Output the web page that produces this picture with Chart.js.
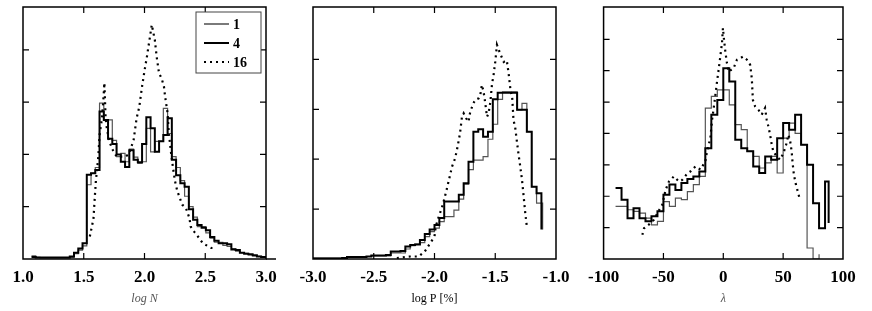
<!DOCTYPE html>
<html>
<head>
<meta charset="utf-8">
<script src="https://cdn.jsdelivr.net/npm/chart.js@4.4.0/dist/chart.umd.min.js"></script>
<style>
  html, body { margin: 0; padding: 0; background: #fff; }
  #wrap { position: relative; width: 872px; height: 311px; }
  canvas { position: absolute; top: 0; }
</style>
</head>
<body>
<div id="wrap">
  <canvas id="c1" width="290" height="311" style="left:0px"></canvas>
  <canvas id="c2" width="290" height="311" style="left:290px"></canvas>
  <canvas id="c3" width="292" height="311" style="left:580px"></canvas>
</div>
<script>
// ---- panel 1: log N histogram (bins start 1.07, width 0.035) ----
const p1Start = 1.07, p1Width = 0.035, p1End = 2.995;
const p1One = [0.06, 0.03, 0.02, 0.02, 0.02, 0.02, 0.02, 0.02, 0.02, 0.03,
  0.1, 0.17, 0.25, 1.42, 1.64, 1.75, 2.98, 2.66, 2.66, 2.27,
  1.96, 2.02, 1.86, 2.1, 1.95, 1.83, 1.86, 2.5, 2.05, 2.25,
  2.25, 2.88, 2.4, 1.96, 1.75, 1.5, 1.2, 1.0, 0.8, 0.62,
  0.62, 0.5, 0.4, 0.32, 0.32, 0.26, 0.24, 0.2, 0.15, 0.12,
  0.11, 0.08, 0.06, 0.05, 0.03];
const p1Four = [0.04, 0.03, 0.03, 0.03, 0.03, 0.03, 0.03, 0.03, 0.03, 0.05,
  0.12, 0.2, 0.3, 1.61, 1.64, 1.7, 2.82, 2.66, 2.3, 2.2,
  2.0, 1.86, 1.76, 2.08, 1.9, 1.85, 2.2, 2.71, 2.5, 2.05,
  2.25, 2.37, 2.69, 1.9, 1.6, 1.45, 1.38, 0.95, 0.75, 0.65,
  0.6, 0.55, 0.42, 0.35, 0.3, 0.3, 0.28, 0.18, 0.17, 0.12,
  0.1, 0.09, 0.07, 0.05, 0.04];
const p1DotX = [1.55, 1.58, 1.59, 1.60, 1.62, 1.63, 1.65, 1.66, 1.67, 1.68, 1.69, 1.71, 1.74, 1.77, 1.80, 1.84,
  1.87, 1.91, 1.935, 1.957, 1.98, 2.0, 2.02, 2.045, 2.06, 2.085, 2.10, 2.12, 2.14, 2.16, 2.17, 2.19,
  2.20, 2.22, 2.235, 2.25, 2.27, 2.29, 2.31, 2.34, 2.37, 2.38, 2.41, 2.44, 2.48, 2.52, 2.55, 2.57];
const p1DotY = [0.43, 0.77, 1.15, 1.5, 1.96, 2.37, 2.69, 3.0, 3.37, 2.69, 2.5, 2.25, 2.08, 1.96, 1.96, 1.96,
  2.0, 2.27, 2.69, 2.91, 3.3, 3.6, 3.87, 4.25, 4.48, 4.19, 3.87, 3.55, 3.46, 3.3, 3.1, 2.79,
  2.41, 2.0, 1.74, 1.5, 1.3, 1.17, 1.04, 0.98, 0.78, 0.62, 0.52, 0.43, 0.3, 0.25, 0.21, 0.21];

// ---- panel 2: log P histogram (bins start -3.0, width 0.04) ----
const p2Start = -3.0, p2Width = 0.04, p2End = -1.12;
const p2One = [0.02, 0.02, 0.02, 0.02, 0.02, 0.02, 0.02, 0.05, 0.05, 0.05,
  0.05, 0.05, 0.06, 0.06, 0.06, 0.06, 0.12, 0.12, 0.12, 0.2,
  0.27, 0.3, 0.33, 0.45, 0.55, 0.62, 0.75, 0.85, 0.85, 0.98,
  1.2, 1.5, 1.79, 1.98, 1.98, 2.05, 2.4, 2.7, 3.2, 3.35,
  3.35, 3.35, 2.99, 3.12, 2.55, 1.45, 1.12];
const p2Four = [0.01, 0.01, 0.01, 0.01, 0.01, 0.01, 0.02, 0.04, 0.04, 0.04,
  0.04, 0.05, 0.07, 0.07, 0.07, 0.08, 0.15, 0.15, 0.16, 0.25,
  0.28, 0.29, 0.38, 0.5, 0.59, 0.68, 0.82, 1.15, 1.15, 1.15,
  1.29, 1.52, 1.95, 2.55, 2.6, 2.45, 2.55, 3.2, 3.33, 3.33,
  3.33, 3.33, 2.99, 2.99, 2.55, 1.45, 1.32];
const p2DotX = [-2.31, -2.2, -2.13, -2.08, -2.04, -2.0, -1.99, -1.965, -1.94, -1.925, -1.9, -1.875, -1.856,
  -1.83, -1.81, -1.79, -1.774, -1.76, -1.74, -1.72, -1.706, -1.68, -1.664, -1.637, -1.623, -1.61,
  -1.596, -1.582, -1.568, -1.555, -1.54, -1.527, -1.513, -1.5, -1.486, -1.46, -1.43, -1.405, -1.39,
  -1.375, -1.36, -1.35, -1.335, -1.32, -1.308, -1.294, -1.28, -1.266, -1.253, -1.24];
const p2DotY = [0.02, 0.05, 0.05, 0.15, 0.3, 0.45, 0.65, 0.85, 1.02, 1.15, 1.39, 1.65, 1.85,
  2.02, 2.25, 2.52, 2.85, 2.92, 2.82, 2.75, 2.95, 3.12, 3.19, 3.22, 3.29, 3.49,
  3.35, 3.12, 2.85, 2.92, 3.15, 3.5, 3.7, 3.95, 4.29, 4.12, 3.95, 3.98, 3.72,
  3.4, 3.22, 2.79, 2.62, 2.32, 2.09, 1.85, 1.59, 1.25, 0.92, 0.65];

// ---- panel 3: lambda histogram (bins start -90, width 5) ----
const p3Start = -90, p3Width = 5;
const p3One = [1.68, 1.68, 1.57, 1.52, 1.46, 1.3, 1.09, 1.2, 1.83, 1.68,
  1.94, 1.89, 2.15, 2.37, 2.63, 4.81, 5.18, 5.39, 5.39, 4.91,
  4.28, 4.12, 3.43, 3.27, 2.9, 3.06, 3.27, 2.74, 3.85, 4.33,
  4.0, 3.64, 0.35, 0, 0.15];
const p3Four = [2.26, 1.89, 1.3, 1.62, 1.3, 1.2, 1.36, 1.52, 2.05, 2.37,
  2.2, 2.42, 2.55, 2.63, 2.79, 3.53, 4.6, 5.07, 6.08, 5.66,
  3.8, 3.53, 3.43, 2.95, 2.74, 3.27, 3.16, 3.85, 4.33, 4.12,
  4.6, 3.64, 3.0, 1.78, 0.98, 2.47];
const p3DotX = [-67.6, -66.2, -62, -58, -55, -51, -48.2, -45.4, -41.3, -37.1, -34.3, -30.2, -27.4, -23.3,
  -19.1, -15, -13.6, -10.8, -9.4, -8, -6.6, -5.2, -3.9, -2.5, -1.1, -0.3, 0.3, 1.7, 3.05, 4.4,
  8.6, 11.4, 14.1, 16.4, 19.7, 22.4, 23.8, 24.3, 24.7, 26.6, 29.4, 32.1, 34.9, 36.3, 37.7, 39.1,
  40.5, 41.8, 44.6, 47.4, 50.2, 52.9, 54.3, 55.7, 57.1, 57.9, 59, 60.7, 62.6, 64];
const p3DotY = [0.77, 0.98, 1.1, 1.25, 1.46, 1.73, 2.2, 2.47, 2.63, 2.47, 2.52, 2.72, 2.79, 2.95,
  2.85, 3.11, 3.43, 3.85, 4.43, 4.81, 5.23, 5.66, 6.03, 6.45, 6.88, 7.36, 7.1, 6.61, 6.24, 5.97,
  6.08, 6.35, 6.4, 6.45, 6.35, 6.19, 5.76, 5.39, 5.07, 4.86, 4.75, 4.6, 4.81, 4.43, 4.22, 3.96,
  3.64, 3.43, 3.27, 3.16, 3.37, 3.69, 3.96, 3.8, 3.43, 3.06, 2.68, 2.37, 2.1, 1.89];

const seriesNames = ['1', '4', '16'];

function stepPoints(start, width, values, endX, endY) {
  const pts = values.map((v, i) => ({ x: start + i * width, y: v }));
  pts.push({ x: endX, y: endY });
  return pts;
}
function linePoints(xs, ys) {
  return xs.map((x, i) => ({ x: x, y: ys[i] }));
}

const serif = "'Liberation Serif', 'DejaVu Serif', serif";

// frame with inward ticks on all four sides, plus the optional boxed legend
const frameTicks = {
  id: 'frameTicks',
  afterDraw(chart, args, opts) {
    const { ctx, chartArea: a, scales } = chart;
    const L = 6;
    ctx.save();
    ctx.strokeStyle = '#000';
    ctx.lineWidth = 1.2;
    ctx.beginPath();
    scales.x.ticks.forEach(t => {
      const px = scales.x.getPixelForValue(t.value);
      if (px <= a.left + 3 || px >= a.right - 3) return;
      ctx.moveTo(px, a.bottom); ctx.lineTo(px, a.bottom - L);
      ctx.moveTo(px, a.top); ctx.lineTo(px, a.top + L);
    });
    scales.y.ticks.forEach(t => {
      const py = scales.y.getPixelForValue(t.value);
      if (py <= a.top + 4 || py >= a.bottom - 3) return;
      ctx.moveTo(a.left, py); ctx.lineTo(a.left + L, py);
      ctx.moveTo(a.right, py); ctx.lineTo(a.right - L, py);
    });
    ctx.stroke();
    ctx.lineWidth = 1.5;
    ctx.strokeRect(a.left, a.top, a.right - a.left, a.bottom - a.top);
    if (opts.extendBase) {
      ctx.beginPath();
      ctx.moveTo(a.right, a.bottom); ctx.lineTo(a.right + opts.extendBase, a.bottom);
      ctx.stroke();
    }
    if (opts.legend) {
      const w = 65, h = 61;
      const x0 = a.right - 5 - w, y0 = a.top + 5;
      ctx.fillStyle = '#fff';
      ctx.fillRect(x0, y0, w, h);
      ctx.strokeStyle = '#444';
      ctx.lineWidth = 1;
      ctx.strokeRect(x0, y0, w, h);
      ctx.font = "bold 14px " + serif;
      ctx.textBaseline = 'middle';
      ctx.textAlign = 'left';
      chart.data.datasets.forEach((ds, i) => {
        const ly = y0 + 12 + i * 19;
        ctx.beginPath();
        ctx.strokeStyle = i === 0 ? '#222' : ds.borderColor;
        ctx.lineWidth = ds.borderWidth;
        ctx.setLineDash(ds.borderDash || []);
        ctx.moveTo(x0 + 8, ly); ctx.lineTo(x0 + 33, ly);
        ctx.stroke();
        ctx.setLineDash([]);
        ctx.fillStyle = '#000';
        ctx.fillText(ds.label, x0 + 37, ly + 1);
      });
    }
    ctx.restore();
  }
};

function makePanel(id, cfg) {
  new Chart(document.getElementById(id), {
    type: 'line',
    data: {
      datasets: [
        { label: seriesNames[0], data: cfg.one, borderColor: '#555', borderWidth: 1.2,
          stepped: true, pointRadius: 0, order: 3 },
        { label: seriesNames[1], data: cfg.four, borderColor: '#000', borderWidth: 2,
          stepped: true, pointRadius: 0, order: 2 },
        { label: seriesNames[2], data: cfg.dots, borderColor: '#000', borderWidth: 2.2,
          borderDash: [2, 4], pointRadius: 0, tension: 0, order: 1 }
      ]
    },
    options: {
      responsive: false,
      animation: false,
      layout: { padding: { left: cfg.padL, right: cfg.padR, top: 7, bottom: 0 } },
      plugins: {
        legend: { display: false },
        tooltip: { enabled: false },
        frameTicks: { legend: cfg.legend, extendBase: cfg.extendBase }
      },
      scales: {
        x: {
          type: 'linear', min: cfg.xMin, max: cfg.xMax,
          grid: { display: false, drawTicks: false },
          border: { display: false },
          ticks: {
            stepSize: cfg.xStep, autoSkip: false, maxRotation: 0, padding: 8,
            color: '#000', font: { family: serif, size: 17, weight: 'bold' },
            callback: cfg.fmt
          },
          title: {
            display: true, text: cfg.title, color: cfg.titleColor,
            font: { family: serif, size: cfg.titleSize, style: cfg.titleStyle },
            padding: { top: 0, bottom: 5 }
          },
          afterFit: s => { s.height = 52; }
        },
        y: {
          min: 0, max: cfg.yMax,
          grid: { display: false, drawTicks: false },
          border: { display: false },
          ticks: { display: false, stepSize: 1 },
          afterFit: s => { s.width = 0; }
        }
      }
    },
    plugins: [frameTicks]
  });
}

makePanel('c1', {
  one: stepPoints(p1Start, p1Width, p1One, p1End, 0.02),
  four: stepPoints(p1Start, p1Width, p1Four, p1End, 0.02),
  dots: linePoints(p1DotX, p1DotY),
  xMin: 1.0, xMax: 3.0, xStep: 0.5, yMax: 4.82,
  fmt: v => v.toFixed(1), title: 'log N', titleStyle: 'italic', titleColor: '#555', titleSize: 12,
  padL: 23, padR: 24, legend: true, extendBase: 10
});
makePanel('c2', {
  one: stepPoints(p2Start, p2Width, p2One, p2End + 0.01, 0.59),
  four: stepPoints(p2Start, p2Width, p2Four, p2End, 0.59),
  dots: linePoints(p2DotX, p2DotY),
  xMin: -3.0, xMax: -1.0, xStep: 0.5, yMax: 5.05,
  fmt: v => v.toFixed(1), title: 'log P [%]', titleStyle: 'normal', titleColor: '#000', titleSize: 12,
  padL: 23, padR: 24, legend: false, extendBase: 0
});
makePanel('c3', {
  one: stepPoints(p3Start, p3Width, p3One, 80, 0.15),
  four: stepPoints(p3Start, p3Width, p3Four, 88, 1.15),
  dots: linePoints(p3DotX, p3DotY),
  xMin: -100, xMax: 100, xStep: 50, yMax: 8.03,
  fmt: v => String(Math.round(v)), title: 'λ', titleStyle: 'italic', titleColor: '#555', titleSize: 12,
  padL: 23, padR: 29, legend: false, extendBase: 0
});
</script>
</body>
</html>
